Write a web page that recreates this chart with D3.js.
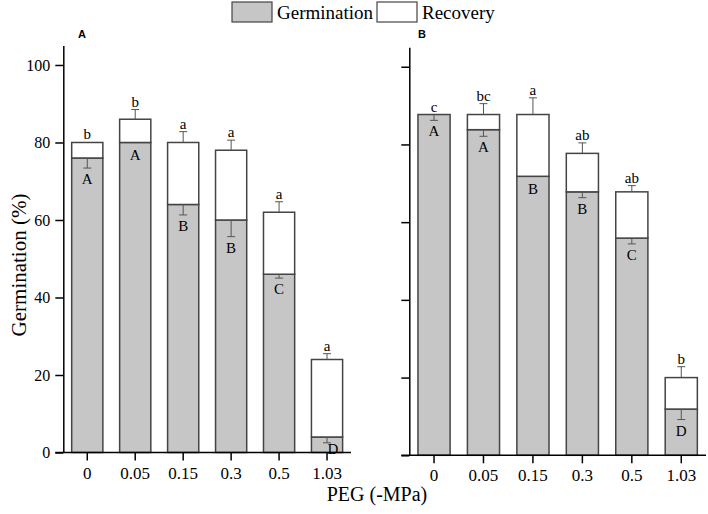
<!DOCTYPE html>
<html>
<head>
<meta charset="utf-8">
<script src="https://cdn.jsdelivr.net/npm/d3@7"></script>
<style>
  body { margin: 0; background: #fff; }
  svg { display: block; font-family: "Liberation Serif", "Times New Roman", serif; }
</style>
</head>
<body>
<div id="chart"></div>
<script>
// PEG levels (-MPa)
const pegLevels = ["0", "0.05", "0.15", "0.3", "0.5", "1.03"];

// panel A
const germA = [76, 80, 64, 60, 46, 4];
const recovA = [4, 6, 16, 18, 16, 20];
const germErrA = [2.6, 0, 2.7, 4.3, 1, 1.5];
const totalErrA = [0, 2.5, 2.8, 2.6, 2.7, 1.5];
const germLetterA = ["A", "A", "B", "B", "C", "D"];
const totalLetterA = ["b", "b", "a", "a", "a", "a"];

// panel B
const germB = [87.7, 83.8, 71.8, 67.8, 55.9, 11.9];
const recovB = [0, 3.9, 15.9, 9.9, 11.9, 8.1];
const germErrB = [1.5, 1.7, 0, 1.5, 1.5, 2.7];
const totalErrB = [0, 2.8, 4.3, 2.7, 1.6, 2.8];
const germLetterB = ["A", "A", "B", "B", "C", "D"];
const totalLetterB = ["c", "bc", "a", "ab", "ab", "b"];

const yTicks = [0, 20, 40, 60, 80, 100];

const W = 708, H = 514;
const greyFill = "#c6c6c6", barStroke = "#444", errColour = "#555";

const svg = d3.select("#chart").append("svg")
    .attr("width", W)
    .attr("height", H);

const drawPanel = (opts) => {
    const { left, right, top, bottom, label, germ, recov, germErr, totalErr, germLetters, totalLetters } = opts;

    const rows = pegLevels.map((p, i) => ({ peg: p, germ: germ[i], recov: recov[i] }));

    const x = d3.scaleBand()
        .domain(pegLevels)
        .range([left, right])
        .paddingInner(0.35)
        .paddingOuter(0.175);

    const y = d3.scaleLinear()
        .domain([0, 105])
        .range([bottom, top]);

    const stacked = d3.stack().keys(["germ", "recov"])(rows);
    const fills = { germ: greyFill, recov: "#fff" };

    const g = svg.append("g");

    g.selectAll("g.layer")
        .data(stacked)
        .join("g")
            .attr("class", "layer")
            .attr("fill", d => fills[d.key])
        .selectAll("rect")
        .data(d => d.filter(s => s[1] - s[0] > 0))
        .join("rect")
            .attr("x", d => x(d.data.peg))
            .attr("width", x.bandwidth())
            .attr("y", d => y(d[1]))
            .attr("height", d => y(d[0]) - y(d[1]))
            .attr("stroke", barStroke)
            .attr("stroke-width", 1.5);

    const cx = i => x(pegLevels[i]) + x.bandwidth() / 2;
    const capW = 4;

    // error bars: germination goes down, total goes up
    pegLevels.forEach((p, i) => {
        const gTop = germ[i];
        const tTop = germ[i] + recov[i];
        if (germErr[i] > 0) {
            g.append("line").attr("x1", cx(i)).attr("x2", cx(i))
                .attr("y1", y(gTop)).attr("y2", y(gTop - germErr[i]))
                .attr("stroke", errColour).attr("stroke-width", 1);
            g.append("line").attr("x1", cx(i) - capW).attr("x2", cx(i) + capW)
                .attr("y1", y(gTop - germErr[i])).attr("y2", y(gTop - germErr[i]))
                .attr("stroke", errColour).attr("stroke-width", 1);
        }
        if (totalErr[i] > 0) {
            g.append("line").attr("x1", cx(i)).attr("x2", cx(i))
                .attr("y1", y(tTop)).attr("y2", y(tTop + totalErr[i]))
                .attr("stroke", errColour).attr("stroke-width", 1);
            g.append("line").attr("x1", cx(i) - capW).attr("x2", cx(i) + capW)
                .attr("y1", y(tTop + totalErr[i])).attr("y2", y(tTop + totalErr[i]))
                .attr("stroke", errColour).attr("stroke-width", 1);
        }

        // letters
        g.append("text")
            .attr("x", cx(i))
            .attr("y", y(tTop + totalErr[i]) - 3)
            .attr("text-anchor", "middle")
            .style("font-size", "15px")
            .text(totalLetters[i]);

        let base = Math.max(y(gTop - germErr[i]), y(gTop) + 2) + 16;
        let dx = 0;
        if (base > y(0)) { base = y(0) + 1; dx = 6; }
        g.append("text")
            .attr("x", cx(i) + dx)
            .attr("y", base)
            .attr("text-anchor", "middle")
            .style("font-size", "15px")
            .text(germLetters[i]);
    });

    // axes
    const xAxisGroup = g.append("g")
        .attr("transform", `translate(0,${bottom})`)
        .call(d3.axisBottom(x).tickSize(8).tickSizeOuter(0).tickPadding(6));
    xAxisGroup.select(".domain").remove();
    xAxisGroup.append("line")
        .attr("x1", left - 8).attr("x2", right)
        .attr("stroke", "#000").attr("stroke-width", 1.5);
    xAxisGroup.selectAll("line").attr("stroke", "#000").attr("stroke-width", 1.5);
    xAxisGroup.selectAll("text")
        .style("font-family", "Liberation Serif, serif")
        .style("font-size", "17px")
        .attr("fill", "#000");

    const yAxisGroup = g.append("g")
        .attr("transform", `translate(${left},0)`)
        .call(d3.axisLeft(y).tickValues(yTicks).tickSize(8).tickSizeOuter(0).tickPadding(5));
    yAxisGroup.select(".domain").attr("stroke", "#000").attr("stroke-width", 1.5);
    yAxisGroup.selectAll(".tick line").attr("stroke", "#000").attr("stroke-width", 1.5);
    yAxisGroup.selectAll("text")
        .style("font-family", "Liberation Serif, serif")
        .style("font-size", "16px")
        .attr("fill", "#000");
    if (opts.hideYLabels) yAxisGroup.selectAll("text").remove();

    g.append("text")
        .attr("x", opts.labelX)
        .attr("y", 38)
        .attr("text-anchor", "middle")
        .style("font-family", "Liberation Sans, Arial, sans-serif")
        .style("font-weight", "bold")
        .style("font-size", "11px")
        .text(label);
};

drawPanel({
    left: 63.3, right: 351, top: 45.6, bottom: 452.5, label: "A", labelX: 82,
    germ: germA, recov: recovA, germErr: germErrA, totalErr: totalErrA,
    germLetters: germLetterA, totalLetters: totalLetterA, hideYLabels: false
});

drawPanel({
    left: 409.3, right: 706, top: 47.3, bottom: 455.3, label: "B", labelX: 422,
    germ: germB, recov: recovB, germErr: germErrB, totalErr: totalErrB,
    germLetters: germLetterB, totalLetters: totalLetterB, hideYLabels: true
});

// axis titles
svg.append("text")
    .attr("transform", "translate(26,265) rotate(-90)")
    .attr("text-anchor", "middle")
    .style("font-size", "21px")
    .text("Germination (%)");

svg.append("text")
    .attr("x", 377)
    .attr("y", 501)
    .attr("text-anchor", "middle")
    .style("font-size", "20px")
    .text("PEG (-MPa)");

// legend
const legendItems = [
    { name: "Germination", fill: greyFill, x: 232 },
    { name: "Recovery", fill: "#fff", x: 377 }
];
const legend = svg.append("g");
legend.selectAll("rect")
    .data(legendItems)
    .join("rect")
        .attr("x", d => d.x)
        .attr("y", 2)
        .attr("width", 40)
        .attr("height", 20)
        .attr("fill", d => d.fill)
        .attr("stroke", "#444")
        .attr("stroke-width", 1.2);
legend.selectAll("text")
    .data(legendItems)
    .join("text")
        .attr("x", d => d.x + 45)
        .attr("y", 19)
        .style("font-size", "19px")
        .text(d => d.name);
</script>
</body>
</html>
